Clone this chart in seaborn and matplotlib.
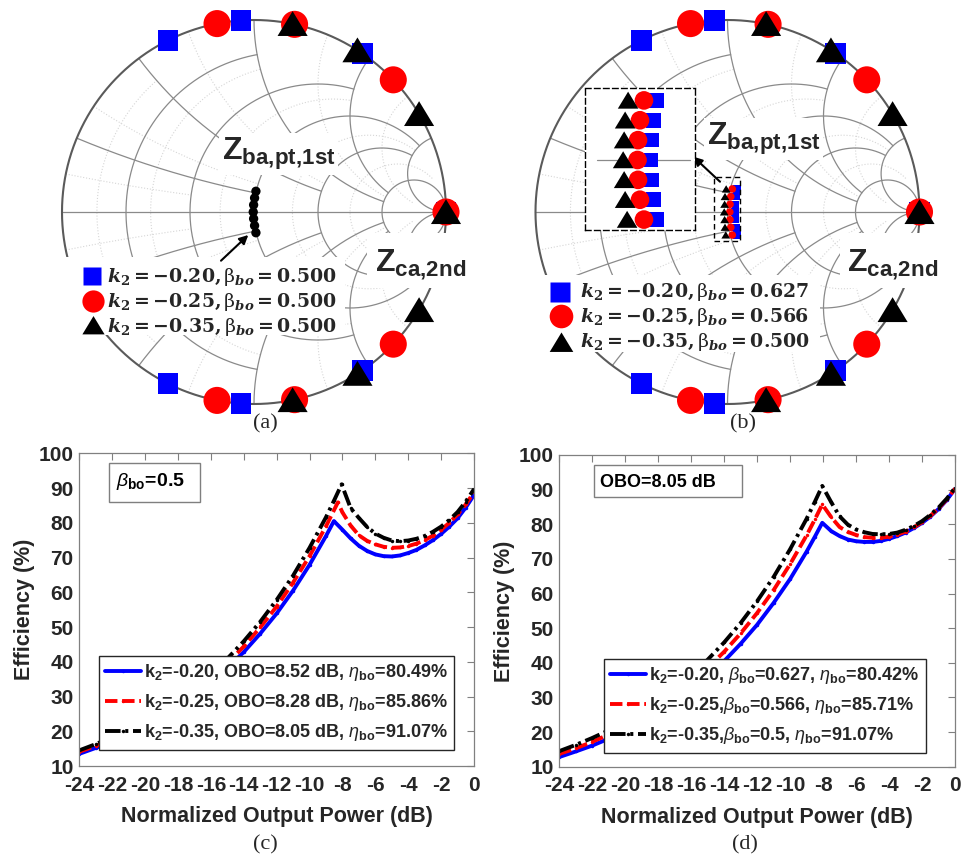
import numpy as np
import matplotlib
matplotlib.use("Agg")
import matplotlib.pyplot as plt
import seaborn as sns
from matplotlib.patches import Rectangle

sns.set_style("white")
plt.rcParams.update({
    "font.family": ["Liberation Sans", "DejaVu Sans"],
    "mathtext.fontset": "custom",
    "mathtext.rm": "Liberation Sans:bold",
    "mathtext.bf": "Liberation Sans:bold",
    "mathtext.it": "Liberation Sans:italic",
    "mathtext.sf": "Liberation Sans:bold",
    "axes.unicode_minus": False,
})

FIG_W, FIG_H, DPI = 962, 861, 100

# ---------------- Smith chart data ----------------
SERIES_K2 = ["-0.20", "-0.25", "-0.35"]
BETA_A = ["0.500", "0.500", "0.500"]
BETA_B = ["0.627", "0.566", "0.500"]
SERIES_COLORS = ["#0000ff", "#ff0000", "#000000"]

# second-harmonic loads on the rim, angle of reflection coefficient (deg)
ZCA_ANGLE_K20 = [116.6, 93.9, 55.7, 0.0, -55.7, -93.9, -116.6]
ZCA_ANGLE_K25 = [101.1, 77.8, 43.5, 0.0, -43.5, -77.8, -101.1]
ZCA_ANGLE_K35 = [78.4, 57.4, 30.7, 0.0, -30.7, -57.4, -78.4]

# fundamental back-off loads (reflection coefficient), equal beta
ZBA_A_RE = [0.010, 0.003, -0.002, -0.004, -0.002, 0.003, 0.010]
ZBA_A_IM = [0.108, 0.073, 0.037, 0.0, -0.035, -0.071, -0.108]

# fundamental back-off loads, beta adjusted per k2
ZBA_B_IM = [0.12, 0.08, 0.04, 0.0, -0.04, -0.08, -0.12]
ZBA_B_RE_K20 = [0.050, 0.044, 0.040, 0.039, 0.040, 0.044, 0.050]
ZBA_B_RE_K25 = [0.025, 0.017, 0.013, 0.012, 0.013, 0.017, 0.025]
ZBA_B_RE_K35 = [-0.007, -0.013, -0.015, -0.017, -0.015, -0.013, -0.009]

# Smith grid: circle values and where each one stops
GRID_MAJOR = [0.2, 0.5, 1.0, 2.0, 5.0]
GRID_MAJOR_END = [1.0, 2.0, 5.0, 5.0, 30.0]
GRID_MINOR = [0.1, 0.3, 0.7, 1.5, 3.0]
GRID_MINOR_END = [0.5, 1.0, 2.0, 5.0, 10.0]

# ---------------- efficiency data ----------------
PRE_X = [-24, -23, -22, -21, -20, -19, -18, -17, -16, -15, -14, -13, -12, -11, -10, -9]

C_X_K20 = PRE_X + [-8.52, -8.0, -7.5, -7.0, -6.5, -6.0, -5.5, -5.0, -4.5, -4.0,
                   -3.5, -3.0, -2.5, -2.0, -1.5, -1.0, -0.5, 0.0]
C_EFF_K20 = [13.5, 15.2, 17.0, 19.1, 21.5, 24.1, 27.0, 30.3, 34.0, 38.2, 42.8, 48.1,
             53.9, 60.5, 67.9, 76.2, 80.49, 78.0, 75.5, 73.4, 71.9, 70.9, 70.4, 70.3,
             70.6, 71.3, 72.2, 73.5, 75.0, 76.8, 78.9, 81.3, 84.4, 88.0]
C_X_K25 = PRE_X + [-8.28, -8.0, -7.5, -7.0, -6.5, -6.0, -5.5, -5.0, -4.5, -4.0,
                   -3.5, -3.0, -2.5, -2.0, -1.5, -1.0, -0.5, 0.0]
C_EFF_K25 = [14.1, 15.8, 17.7, 19.9, 22.3, 25.0, 28.0, 31.5, 35.3, 39.6, 44.4, 49.9,
             55.9, 62.8, 70.4, 79.0, 85.86, 83.0, 79.2, 76.4, 74.8, 73.8, 73.1, 72.8,
             72.9, 73.3, 74.0, 75.0, 76.3, 78.0, 80.0, 82.4, 85.3, 88.8]
C_X_K35 = PRE_X + [-8.5, -8.05, -7.5, -7.0, -6.5, -6.0, -5.5, -5.0, -4.5, -4.0,
                   -3.5, -3.0, -2.5, -2.0, -1.5, -1.0, -0.5, 0.0]
C_EFF_K35 = [14.5, 16.3, 18.3, 20.5, 23.0, 25.8, 29.0, 32.5, 36.5, 40.9, 45.9, 51.5,
             57.8, 64.8, 72.8, 81.6, 86.5, 91.07, 84.2, 81.4, 78.8, 76.9, 75.7, 74.9,
             74.7, 74.9, 75.4, 76.2, 77.4, 78.9, 80.8, 83.1, 86.1, 89.7]

D_X = PRE_X + [-8.5, -8.05, -7.5, -7.0, -6.5, -6.0, -5.5, -5.0, -4.5, -4.0,
               -3.5, -3.0, -2.5, -2.0, -1.5, -1.0, -0.5, 0.0]
D_EFF_K20 = [12.8, 14.4, 16.1, 18.1, 20.3, 22.8, 25.6, 28.7, 32.2, 36.1, 40.5, 45.5,
             51.0, 57.3, 64.2, 72.1, 76.4, 80.42, 78.0, 76.6, 75.6, 75.1, 74.9, 74.9,
             75.2, 75.8, 76.6, 77.6, 78.9, 80.4, 82.2, 84.4, 87.0, 90.2]
D_EFF_K25 = [13.7, 15.3, 17.2, 19.3, 21.7, 24.3, 27.3, 30.6, 34.3, 38.5, 43.2, 48.5,
             54.4, 61.0, 68.5, 76.8, 81.4, 85.71, 82.0, 79.2, 77.8, 76.9, 76.3, 76.1,
             76.1, 76.4, 77.0, 77.9, 79.1, 80.6, 82.4, 84.6, 87.2, 90.3]
D_EFF_K35 = [14.5, 16.3, 18.3, 20.5, 23.0, 25.8, 29.0, 32.5, 36.5, 40.9, 45.9, 51.5,
             57.8, 64.8, 72.8, 81.6, 86.5, 91.07, 86.3, 82.3, 79.9, 78.5, 77.7, 77.2,
             77.1, 77.2, 77.6, 78.4, 79.5, 80.9, 82.7, 84.8, 87.4, 90.5]

C_LABELS = [
    r"$\mathrm{k}_\mathrm{2}$=-0.20, OBO=8.52 dB, $\mathit{\eta}_\mathrm{bo}$=80.49%",
    r"$\mathrm{k}_\mathrm{2}$=-0.25, OBO=8.28 dB, $\mathit{\eta}_\mathrm{bo}$=85.86%",
    r"$\mathrm{k}_\mathrm{2}$=-0.35, OBO=8.05 dB, $\mathit{\eta}_\mathrm{bo}$=91.07%",
]
D_LABELS = [
    r"$\mathrm{k}_\mathrm{2}$=-0.20, $\mathit{\beta}_\mathrm{bo}$=0.627, $\mathit{\eta}_\mathrm{bo}$=80.42%",
    r"$\mathrm{k}_\mathrm{2}$=-0.25,$\mathit{\beta}_\mathrm{bo}$=0.566, $\mathit{\eta}_\mathrm{bo}$=85.71%",
    r"$\mathrm{k}_\mathrm{2}$=-0.35,$\mathit{\beta}_\mathrm{bo}$=0.5, $\mathit{\eta}_\mathrm{bo}$=91.07%",
]

TRI = [(-1.0, -0.8), (1.0, -0.8), (0.0, 0.85), (-1.0, -0.8)]
MARKERS = ["s", "o", TRI]

fig = plt.figure(figsize=(FIG_W / DPI, FIG_H / DPI), dpi=DPI)
fig.patch.set_facecolor("white")

SMITH_R = 192.0
SMITH_L = 1.13


def to_smith(c, px, py):
    return (px - c[0]) / SMITH_R, (c[1] - py) / SMITH_R


def gamma(z):
    return (z - 1) / (z + 1)


def draw_smith_grid(ax):
    minor_kw = dict(color="#d6d6d6", lw=0.8, ls=":", zorder=1)
    major_kw = dict(color="#8a8a8a", lw=0.9, ls="-", zorder=1)
    for vals, ends, kw in ((GRID_MINOR, GRID_MINOR_END, minor_kw),
                           (GRID_MAJOR, GRID_MAJOR_END, major_kw)):
        for v, e in zip(vals, ends):
            xs = np.linspace(-e, e, 4001)
            g = gamma(v + 1j * xs)
            ax.plot(g.real, g.imag, **kw)
            rs = np.linspace(0, e, 4001)
            for sgn in (1, -1):
                g = gamma(rs + 1j * sgn * v)
                ax.plot(g.real, g.imag, **kw)
    ax.plot([-1, 1], [0, 0], color="#8a8a8a", lw=0.9, zorder=1)
    t = np.linspace(0, 2 * np.pi, 721)
    ax.plot(np.cos(t), np.sin(t), color="#5a5a5a", lw=1.5, zorder=2)


def make_smith(c):
    half = SMITH_R * SMITH_L
    ax = fig.add_axes([(c[0] - half) / FIG_W, 1 - (c[1] + half) / FIG_H,
                       2 * half / FIG_W, 2 * half / FIG_H])
    ax.set_xlim(-SMITH_L, SMITH_L)
    ax.set_ylim(-SMITH_L, SMITH_L)
    ax.set_axis_off()
    draw_smith_grid(ax)
    return ax


def rim_points(ax, sizes):
    for ang, col, mk, s in zip((ZCA_ANGLE_K20, ZCA_ANGLE_K25, ZCA_ANGLE_K35),
                               SERIES_COLORS, MARKERS, sizes):
        a = np.deg2rad(ang)
        sns.scatterplot(x=np.cos(a), y=np.sin(a), ax=ax, marker=mk, s=s, color=col,
                        edgecolor="none", linewidth=0, zorder=5, legend=False,
                        clip_on=False)


def white_box(ax, c, x0, y0, x1, y1):
    a0, b0 = to_smith(c, x0, y1)
    a1, b1 = to_smith(c, x1, y0)
    ax.add_patch(Rectangle((a0, b0), a1 - a0, b1 - b0, facecolor="white",
                           edgecolor="none", zorder=3))


def z_label(ax, c, px, py, text):
    x, y = to_smith(c, px, py)
    ax.text(x, y, text, fontsize=23, ha="left", va="baseline", zorder=4,
            bbox=dict(facecolor="white", edgecolor="none", pad=2))


def smith_legend(ax, c, box, mk_pts, text_x, base_y, betas, msizes):
    white_box(ax, c, *box)
    for i in range(3):
        mx, my = to_smith(c, *mk_pts[i])
        ax.plot([mx], [my], marker=MARKERS[i], ms=msizes[i], color=SERIES_COLORS[i],
                mec="none", ls="none", zorder=6, clip_on=False)
        tx, ty = to_smith(c, text_x, base_y[i])
        lbl = (r"$\mathbfit{k}_\mathbf{2} \mathbf{=} \mathbf{-0.%s{,}}\,"
               r"\mathrm{\beta}_{\mathbfit{bo}} \mathbf{=} \mathbf{%s}$"
               % (SERIES_K2[i][3:], betas[i]))
        ax.text(tx, ty, lbl, fontsize=13.6, math_fontfamily="dejavuserif",
                ha="left", va="baseline", zorder=6)


RIM_SIZES = [225, 380, 470]
LEG_MS = [13, 16, 16]
ZBA_TEXT = r"$\mathbf{Z}_{\mathbf{ba{,}pt{,}1st}}$"
ZCA_TEXT = r"$\mathbf{Z}_{\mathbf{ca{,}2nd}}$"

# ---------------- (a) ----------------
CA = (254.0, 212.0)
ax_a = make_smith(CA)
rim_points(ax_a, RIM_SIZES)
sns.scatterplot(x=ZBA_A_RE, y=ZBA_A_IM, ax=ax_a, marker="o", s=45, color="black",
                edgecolor="none", linewidth=0, zorder=5, legend=False)
white_box(ax_a, CA, 367, 233, 468, 288)
z_label(ax_a, CA, 221.7, 160.0, ZBA_TEXT)
z_label(ax_a, CA, 375.0, 271.7, ZCA_TEXT)
ax_a.annotate("", xy=to_smith(CA, 248.3, 235.0), xytext=to_smith(CA, 221.0, 260.7),
              arrowprops=dict(arrowstyle="-|>", color="black", lw=1.5,
                              mutation_scale=13, shrinkA=0, shrinkB=0), zorder=6)
smith_legend(ax_a, CA, (62, 257, 345, 335),
             [(91.7, 276.0), (92.7, 301.0), (92.7, 325.0)], 106.7,
             [281.7, 306.7, 331.7], BETA_A, LEG_MS)

# ---------------- (b) ----------------
CB = (727.5, 212.0)
ax_b = make_smith(CB)
rim_points(ax_b, RIM_SIZES)
for xs, col, mk, s in zip((ZBA_B_RE_K20, ZBA_B_RE_K25, ZBA_B_RE_K35),
                          SERIES_COLORS, MARKERS, (28, 30, 40)):
    sns.scatterplot(x=xs, y=ZBA_B_IM, ax=ax_b, marker=mk, s=s, color=col,
                    edgecolor="none", linewidth=0, zorder=5, legend=False)
bx0, by0 = to_smith(CB, 714.0, 241.0)
bx1, by1 = to_smith(CB, 740.0, 177.3)
ax_b.add_patch(Rectangle((bx0, by0), bx1 - bx0, by1 - by0, fill=False, edgecolor="black",
                         lw=1.0, ls=(0, (4, 2.5)), zorder=6))
white_box(ax_b, CB, 840, 233, 940, 288)
z_label(ax_b, CB, 706.7, 145.0, ZBA_TEXT)
z_label(ax_b, CB, 846.7, 271.7, ZCA_TEXT)
ax_b.annotate("", xy=to_smith(CB, 693.3, 156.7), xytext=to_smith(CB, 720.0, 181.7),
              arrowprops=dict(arrowstyle="-|>", color="black", lw=1.5,
                              mutation_scale=13, shrinkA=0, shrinkB=0), zorder=6)
smith_legend(ax_b, CB, (540, 275, 820, 352),
             [(560.0, 291.7), (561.0, 316.0), (561.0, 341.7)], 580.0,
             [296.7, 321.7, 346.7], BETA_B, [14, 17, 17])

# magnified view of the fundamental loads
ax_in = fig.add_axes([585 / FIG_W, 1 - 230 / FIG_H, 110 / FIG_W, 142 / FIG_H])
ax_in.set_facecolor("white")
ax_in.set_xlim(-0.094, 0.128)
ax_in.set_ylim(-0.141, 0.145)
ax_in.set_xticks([])
ax_in.set_yticks([])
for sp in ax_in.spines.values():
    sp.set_visible(True)
    sp.set_color("black")
    sp.set_linewidth(1.0)
    sp.set_linestyle((0, (4, 2.5)))
ax_in.plot([-0.07, 0.118], [0, 0], color="#8a8a8a", lw=0.9, zorder=1)
for xs, col, mk, s in zip((ZBA_B_RE_K20, ZBA_B_RE_K25, ZBA_B_RE_K35),
                          SERIES_COLORS, MARKERS, (110, 180, 220)):
    sns.scatterplot(x=xs, y=ZBA_B_IM, ax=ax_in, marker=mk, s=s, color=col,
                    edgecolor="none", linewidth=0, zorder=5, legend=False)

# ---------------- efficiency panels ----------------
LINE_STYLES = ["-", (0, (3.2, 1.2)), (0, (4.0, 1.2, 0.8, 1.2))]


def make_eff(rect_px):
    l, t, r, b = rect_px
    ax = fig.add_axes([l / FIG_W, 1 - b / FIG_H, (r - l) / FIG_W, (b - t) / FIG_H])
    ax.set_xlim(-24, 0)
    ax.set_ylim(10, 100)
    xt = list(range(-24, 1, 2))
    yt = list(range(10, 101, 10))
    ax.set_xticks(xt, labels=[str(v) for v in xt], fontsize=15, fontweight="bold",
                  color="#262626")
    ax.set_yticks(yt, labels=[str(v) for v in yt], fontsize=15, fontweight="bold",
                  color="#262626")
    ax.tick_params(direction="in", length=5, width=0.8, top=True, right=True,
                   color="#808080")
    ax.tick_params(axis="x", pad=7)
    ax.tick_params(axis="y", pad=4)
    for sp in ax.spines.values():
        sp.set_visible(True)
        sp.set_color("#808080")
        sp.set_linewidth(0.9)
    ax.set_xlabel("Normalized Output Power (dB)", fontsize=15.5, fontweight="bold",
                  color="#262626", labelpad=8)
    ax.set_ylabel("Efficiency (%)", fontsize=15.5, fontweight="bold",
                  color="#262626", labelpad=3)
    return ax


def eff_curves(ax, xs_list, ys_list):
    for xs, ys, col, ls in zip(xs_list, ys_list, SERIES_COLORS, LINE_STYLES):
        sns.lineplot(x=xs, y=ys, ax=ax, color=col, lw=2.8, linestyle=ls, marker=".",
                     markersize=5, markeredgewidth=0, sort=False, estimator=None)


def eff_legend(ax, labels, anchor):
    leg = ax.legend(handles=ax.get_lines()[:3], labels=labels, loc="upper left",
                    bbox_to_anchor=anchor, borderaxespad=0, frameon=True,
                    fancybox=False, framealpha=1, edgecolor="#262626",
                    prop={"family": "Liberation Sans", "weight": "bold", "size": 13},
                    handlelength=2.0, handletextpad=0.15, labelspacing=0.5,
                    borderpad=0.35, numpoints=1)
    leg.get_frame().set_linewidth(1.0)
    leg.set_zorder(10)


def note_box(ax, rect, text_xy, text, size):
    ax.add_patch(Rectangle(rect[:2], rect[2], rect[3], transform=ax.transAxes,
                           facecolor="white", edgecolor="#7f7f7f", lw=1.0, zorder=9))
    ax.text(*text_xy, text, transform=ax.transAxes, fontsize=size, fontweight="bold",
            ha="left", va="baseline", zorder=10, color="black")


ax_c = make_eff((79.3, 453.3, 474.0, 766.0))
eff_curves(ax_c, (C_X_K20, C_X_K25, C_X_K35), (C_EFF_K20, C_EFF_K25, C_EFF_K35))
eff_legend(ax_c, C_LABELS, (0.0499, 0.3518))
note_box(ax_c, (0.0752, 0.8443, 0.2306, 0.1247), (0.0932, 0.8954),
         r"$\mathit{\beta}_\mathrm{bo}$=0.5", 14)

ax_d = make_eff((559.3, 455.0, 955.0, 766.7))
eff_curves(ax_d, (D_X, D_X, D_X), (D_EFF_K20, D_EFF_K25, D_EFF_K35))
eff_legend(ax_d, D_LABELS, (0.113, 0.3455))
note_box(ax_d, (0.0877, 0.8653, 0.374, 0.1027), (0.1024, 0.8964), "OBO=8.05 dB", 13)

# panel captions
for lbl, px, py in (("(a)", 265, 424), ("(b)", 743, 424), ("(c)", 265, 845), ("(d)", 745, 845)):
    fig.text(px / FIG_W, 1 - py / FIG_H, lbl, fontsize=16, family="Liberation Serif",
             ha="center", va="center")

fig.savefig("out.png", dpi=DPI, facecolor="white")
